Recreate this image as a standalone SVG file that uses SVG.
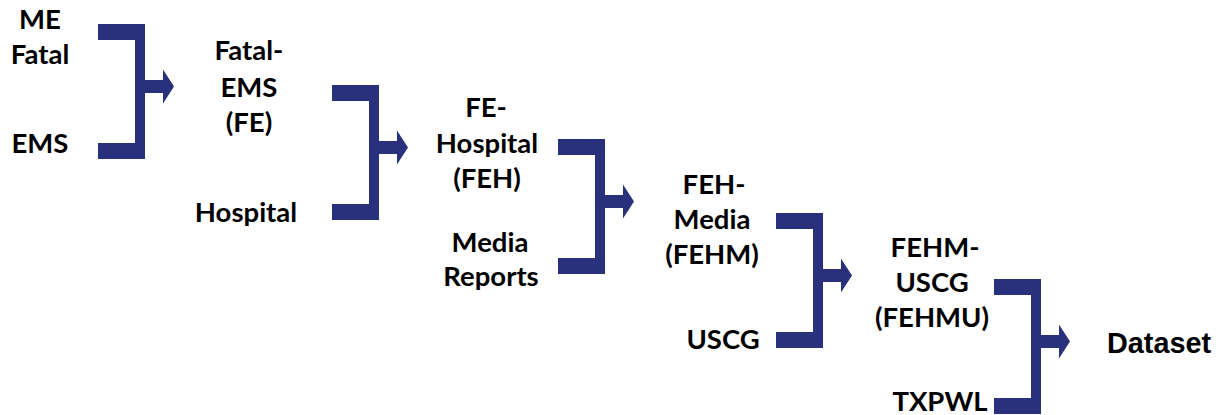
<svg xmlns="http://www.w3.org/2000/svg" width="1219" height="415" viewBox="0 0 1219 415">
<style>
.t{font-family:Lato,"Open Sans","Liberation Sans",sans-serif;font-weight:700;font-size:27.5px;fill:#000;text-anchor:middle}
.d{font-family:"Liberation Sans",Arial,sans-serif;font-weight:700;font-size:28.8px;fill:#000}
.br{fill:#2a317c}
</style>
<defs>
<path id="bracket" d="M0 0 H47 V56 H65 V45.5 L76 62.5 L65 79.5 V69 H47 V135 H0 V119 H37 V16 H0 Z"/>
</defs>
<rect width="1219" height="415" fill="#fff"/>
<g id="connectors" class="br">
<use href="#bracket" transform="translate(98,24)"/>
<use href="#bracket" transform="translate(332,85)"/>
<use href="#bracket" transform="translate(558,139)"/>
<use href="#bracket" transform="translate(776,213)"/>
<use href="#bracket" transform="translate(994,279)"/>
</g>
<g id="me-fatal"><text class="t" x="40" y="29">ME</text><text class="t" x="40" y="64">Fatal</text></g>
<g id="ems"><text class="t" x="40" y="153">EMS</text></g>
<g id="fe"><text class="t" x="249" y="60">Fatal-</text><text class="t" x="249" y="97">EMS</text><text class="t" x="249" y="132">(FE)</text></g>
<g id="hospital"><text class="t" x="246" y="222">Hospital</text></g>
<g id="feh"><text class="t" x="486" y="117">FE-</text><text class="t" x="487" y="153">Hospital</text><text class="t" x="487" y="188">(FEH)</text></g>
<g id="media-reports"><text class="t" x="490" y="252">Media</text><text class="t" x="491" y="286">Reports</text></g>
<g id="fehm"><text class="t" x="714" y="194">FEH-</text><text class="t" x="712" y="229">Media</text><text class="t" x="712" y="264">(FEHM)</text></g>
<g id="uscg"><text class="t" x="723" y="349">USCG</text></g>
<g id="fehmu"><text class="t" x="935" y="257">FEHM-</text><text class="t" x="932" y="292">USCG</text><text class="t" x="932" y="327">(FEHMU)</text></g>
<g id="txpwl"><text class="t" x="940" y="411">TXPWL</text></g>
<g id="dataset"><text class="d" x="1107" y="353">Dataset</text></g>
</svg>
